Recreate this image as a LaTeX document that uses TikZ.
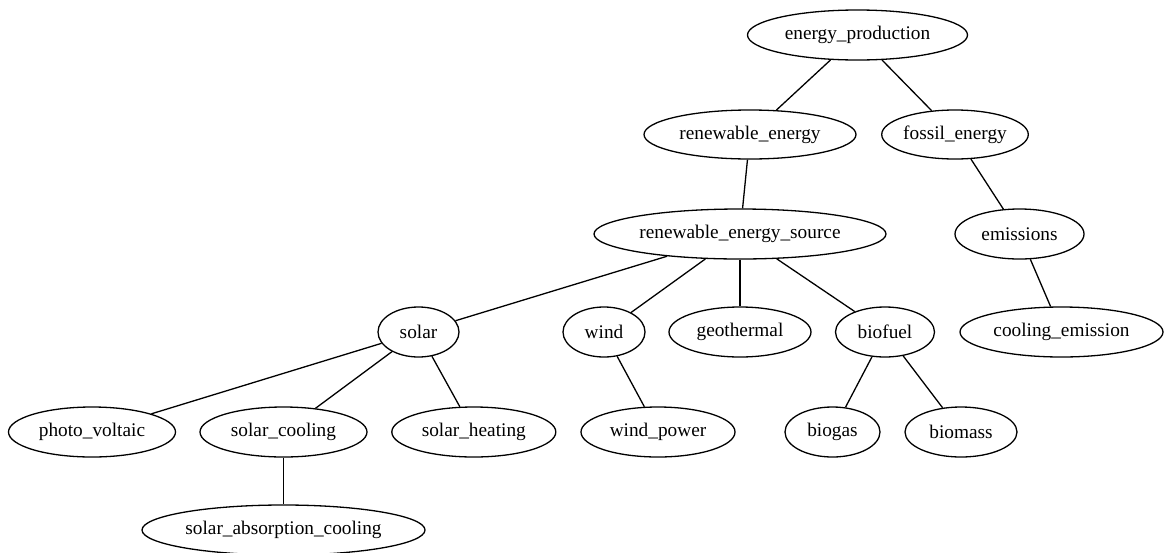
\documentclass[tikz,border=0pt]{standalone}
\usepackage{fontspec}
\setmainfont{Liberation Serif}
\usetikzlibrary{shapes.geometric}
\begin{document}
\begin{tikzpicture}[x=1pt,y=-1pt,
  nd/.style={ellipse,draw,line width=1.3pt,inner sep=0pt,minimum height=50pt,font=\fontsize{19.3}{23}\selectfont},
  ed/.style={line width=1.3pt}]
\useasboundingbox (0,0) rectangle (1164,552);
\node[nd,minimum width=220pt] (ep) at (857.5,35) {energy\_production};
\node[nd,minimum width=212pt,minimum height=49pt] (re) at (750,134.5) {renewable\_energy};
\node[nd,minimum width=136pt,minimum height=49pt] (fe) at (955,134.5) {fossil\_energy};
\node[nd,minimum width=292pt] (res) at (740,234) {renewable\_energy\_source};
\node[nd,minimum width=129pt] (em) at (1019.5,234) {emissions};
\node[nd,minimum width=203pt] (ce) at (1061.5,332) {cooling\_emission};
\node[nd,minimum width=81pt] (so) at (418.5,332) {solar};
\node[nd,minimum width=82pt] (wi) at (604,332) {wind};
\node[nd,minimum width=142pt] (ge) at (740,332) {geothermal};
\node[nd,minimum width=99pt] (bf) at (885,332) {biofuel};
\node[nd,minimum width=167pt] (pv) at (92,432) {photo\_voltaic};
\node[nd,minimum width=167pt] (sc) at (283.5,432) {solar\_cooling};
\node[nd,minimum width=164pt] (sh) at (473.8,432) {solar\_heating};
\node[nd,minimum width=154pt] (wp) at (658,432) {wind\_power};
\node[nd,minimum width=95pt] (bg) at (832.5,432) {biogas};
\node[nd,minimum width=112pt] (bm) at (961,432) {biomass};
\node[nd,minimum width=283pt] (sac) at (283.5,530) {solar\_absorption\_cooling};
\draw[ed] (ep) -- (re);
\draw[ed] (ep) -- (fe);
\draw[ed] (re) -- (res);
\draw[ed] (fe) -- (em);
\draw[ed] (em) -- (ce);
\draw[ed] (res) -- (so);
\draw[ed] (res) -- (wi);
\draw[ed] (res) -- (ge);
\draw[ed] (res) -- (bf);
\draw[ed] (so) -- (pv);
\draw[ed] (so) -- (sc);
\draw[ed] (so) -- (sh);
\draw[ed] (wi) -- (wp);
\draw[ed] (bf) -- (bg);
\draw[ed] (bf) -- (bm);
\draw[ed] (sc) -- (sac);
\end{tikzpicture}
\end{document}
